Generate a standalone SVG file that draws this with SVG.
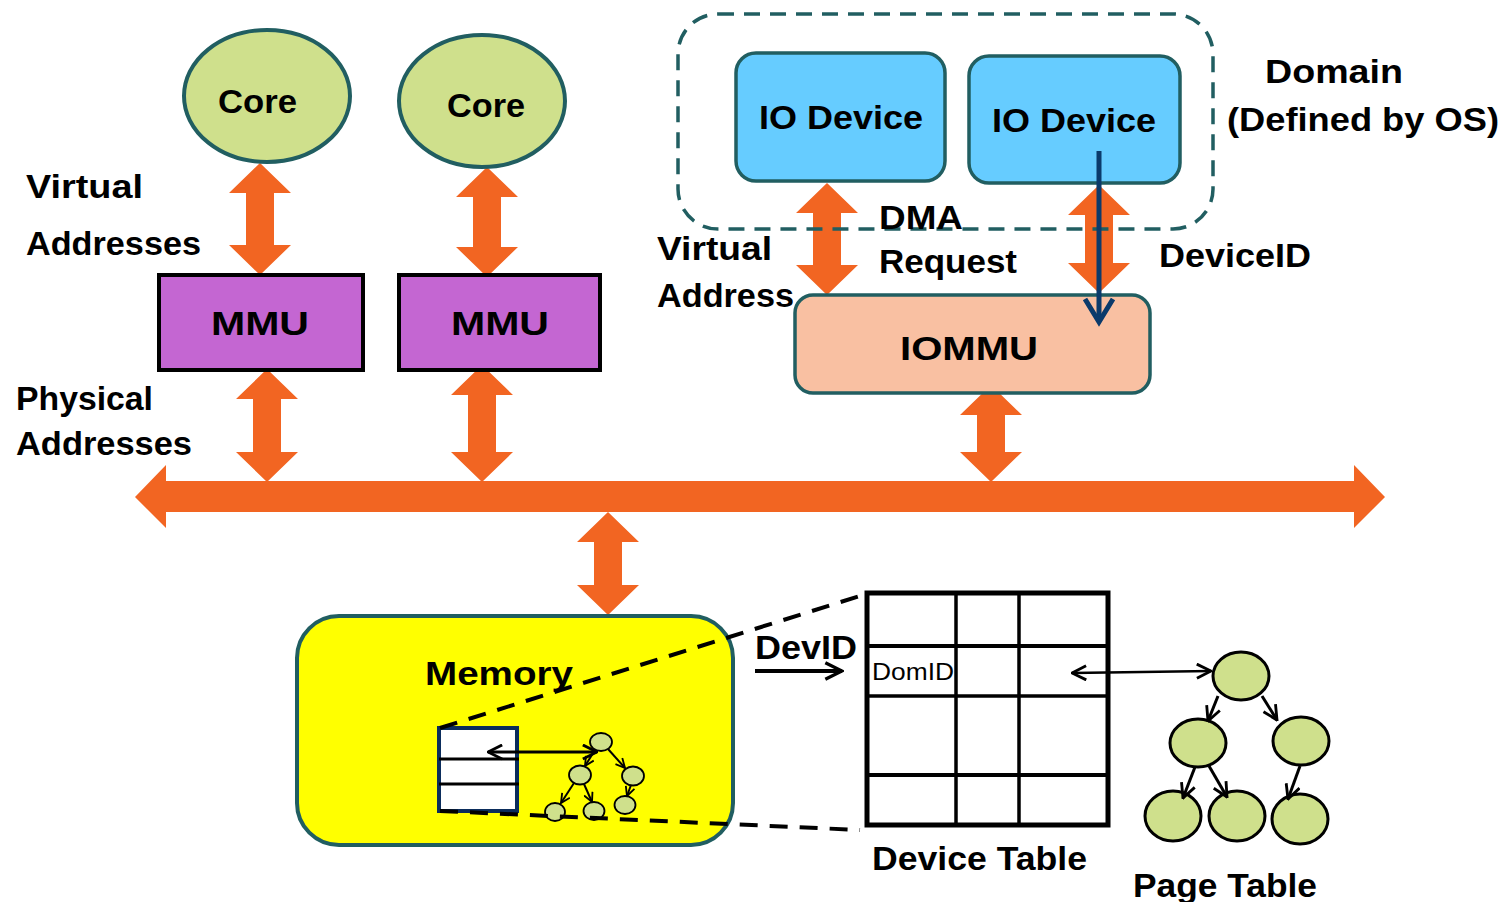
<svg xmlns="http://www.w3.org/2000/svg" width="1504" height="902" viewBox="0 0 1504 902">
<defs>
<style>
.t{font-family:"Liberation Sans",Arial,sans-serif;font-weight:bold;fill:#000;font-size:34px}
.n{font-family:"Liberation Sans",Arial,sans-serif;fill:#000;font-size:24px}
.or{fill:#f26522}
.core{fill:#cfe08c;stroke:#215e61;stroke-width:4}
.pt{fill:#cfe08c;stroke:#000;stroke-width:3}
.pts{fill:#cfe08c;stroke:#000;stroke-width:1.8}
.ln{stroke:#000;fill:none}
.dash{stroke:#000;stroke-width:4;stroke-dasharray:18 12;fill:none}
.box{stroke:#215e61;stroke-width:3.5}
</style>
<marker id="ah" viewBox="0 0 12 12" refX="11" refY="6" markerWidth="17" markerHeight="17" markerUnits="userSpaceOnUse" orient="auto-start-reverse"><path d="M1,1 L11,6 L1,11" fill="none" stroke="#000" stroke-width="2"/></marker>
<marker id="ahs" viewBox="0 0 12 12" refX="11" refY="6" markerWidth="11" markerHeight="11" markerUnits="userSpaceOnUse" orient="auto-start-reverse"><path d="M1,1 L11,6 L1,11" fill="none" stroke="#000" stroke-width="2"/></marker>
<marker id="ahb" viewBox="0 0 12 12" refX="11" refY="6" markerWidth="20" markerHeight="20" markerUnits="userSpaceOnUse" orient="auto-start-reverse"><path d="M1,1 L11,6 L1,11" fill="none" stroke="#000" stroke-width="2"/></marker>
</defs>
<rect width="1504" height="902" fill="#fff"/>

<g id="connectors">
<polygon class="or" points="135,497 166,465 166,481 1354,481 1354,465 1385,497 1354,528 1354,512 166,512 166,528"/>
<polygon class="or" points="260,163 291,193 274,193 274,245 291,245 260,275 229,245 246,245 246,193 229,193"/>
<polygon class="or" points="487,167 518,197 501,197 501,247 518,247 487,277 456,247 473,247 473,197 456,197"/>
<polygon class="or" points="267,369 298,399 281,399 281,452 298,452 267,482 236,452 253,452 253,399 236,399"/>
<polygon class="or" points="482,365 513,395 496,395 496,452 513,452 482,482 451,452 468,452 468,395 451,395"/>
<polygon class="or" points="991,385 1022,415 1005,415 1005,452 1022,452 991,482 960,452 977,452 977,415 960,415"/>
<polygon class="or" points="608,512 639,542 622,542 622,585 639,585 608,615 577,585 594,585 594,542 577,542"/>
<polygon class="or" points="827,183 858,213 841,213 841,265 858,265 827,295 796,265 813,265 813,213 796,213"/>
<polygon class="or" points="1099,185 1130,215 1113,215 1113,263 1130,263 1099,293 1068,263 1085,263 1085,215 1068,215"/>
</g>

<g id="domain">
<rect x="678" y="14" width="535" height="215" rx="40" fill="none" stroke="#215e61" stroke-width="3.5" stroke-dasharray="16 10"/>
<text class="t" x="1265" y="83" textLength="138" lengthAdjust="spacingAndGlyphs">Domain</text>
<text class="t" x="1227" y="131" textLength="272" lengthAdjust="spacingAndGlyphs">(Defined by OS)</text>
</g>

<g id="core1">
<ellipse class="core" cx="267" cy="96" rx="83" ry="66"/>
<text class="t" x="218" y="113" textLength="79" lengthAdjust="spacingAndGlyphs">Core</text>
</g>
<g id="core2">
<ellipse class="core" cx="482" cy="101" rx="83" ry="66"/>
<text class="t" x="447" y="117" textLength="78" lengthAdjust="spacingAndGlyphs">Core</text>
</g>
<g id="mmu1">
<rect x="159" y="275" width="204" height="95" fill="#c466d2" stroke="#000" stroke-width="4"/>
<text class="t" x="211" y="335" textLength="98" lengthAdjust="spacingAndGlyphs">MMU</text>
</g>
<g id="mmu2">
<rect x="399" y="275" width="201" height="95" fill="#c466d2" stroke="#000" stroke-width="4"/>
<text class="t" x="451" y="335" textLength="98" lengthAdjust="spacingAndGlyphs">MMU</text>
</g>

<g id="labels-left">
<text class="t" x="26" y="198" textLength="117" lengthAdjust="spacingAndGlyphs">Virtual</text>
<text class="t" x="26" y="255" textLength="175" lengthAdjust="spacingAndGlyphs">Addresses</text>
<text class="t" x="16" y="410" textLength="137" lengthAdjust="spacingAndGlyphs">Physical</text>
<text class="t" x="16" y="455" textLength="176" lengthAdjust="spacingAndGlyphs">Addresses</text>
</g>

<g id="iodev1">
<rect class="box" x="736" y="53" width="209" height="128" rx="20" fill="#66ccff"/>
<text class="t" x="759" y="129" textLength="164" lengthAdjust="spacingAndGlyphs">IO Device</text>
</g>
<g id="iodev2">
<rect class="box" x="969" y="56" width="211" height="127" rx="20" fill="#66ccff"/>
<text class="t" x="992" y="132" textLength="164" lengthAdjust="spacingAndGlyphs">IO Device</text>
</g>
<g id="iommu">
<rect class="box" x="795" y="295" width="355" height="98" rx="18" fill="#f9c0a2"/>
<text class="t" x="900" y="360" textLength="138" lengthAdjust="spacingAndGlyphs">IOMMU</text>
</g>

<g id="deviceid-arrow">
<line x1="1099" y1="151" x2="1099" y2="321" stroke="#0b3a6b" stroke-width="5"/>
<path d="M1085,299 L1099,322 L1113,299" fill="none" stroke="#0b3a6b" stroke-width="5"/>
</g>

<g id="labels-io">
<text class="t" x="879" y="229" textLength="84" lengthAdjust="spacingAndGlyphs">DMA</text>
<text class="t" x="879" y="273" textLength="138" lengthAdjust="spacingAndGlyphs">Request</text>
<text class="t" x="657" y="260" textLength="115" lengthAdjust="spacingAndGlyphs">Virtual</text>
<text class="t" x="657" y="307" textLength="137" lengthAdjust="spacingAndGlyphs">Address</text>
<text class="t" x="1159" y="267" textLength="152" lengthAdjust="spacingAndGlyphs">DeviceID</text>
</g>

<g id="memory">
<rect x="297" y="616" width="436" height="229" rx="42" fill="#ffff00" stroke="#215e61" stroke-width="4"/>
<text class="t" x="425" y="685" textLength="148" lengthAdjust="spacingAndGlyphs">Memory</text>
<rect x="439" y="728" width="78" height="83" fill="#fff" stroke="#0b2d5c" stroke-width="4"/>
<line class="ln" x1="439" y1="759" x2="519" y2="759" stroke-width="3"/>
<line class="ln" x1="439" y1="784" x2="519" y2="784" stroke-width="3"/>
<line class="ln" x1="488" y1="752" x2="597" y2="752" stroke-width="3" marker-start="url(#ah)" marker-end="url(#ah)"/>
<ellipse class="pts" cx="601" cy="742" rx="11" ry="9"/>
<ellipse class="pts" cx="580" cy="775" rx="11" ry="9.5"/>
<ellipse class="pts" cx="633" cy="776" rx="11" ry="9.5"/>
<ellipse class="pts" cx="555" cy="812" rx="10" ry="9"/>
<ellipse class="pts" cx="594" cy="811" rx="10.5" ry="9"/>
<ellipse class="pts" cx="625" cy="805" rx="10.5" ry="9"/>
<line class="ln" x1="595" y1="750" x2="585" y2="766" stroke-width="2" marker-end="url(#ahs)"/>
<line class="ln" x1="608" y1="749" x2="625" y2="768" stroke-width="2" marker-end="url(#ahs)"/>
<line class="ln" x1="574" y1="783" x2="561" y2="803" stroke-width="2" marker-end="url(#ahs)"/>
<line class="ln" x1="584" y1="784" x2="592" y2="802" stroke-width="2" marker-end="url(#ahs)"/>
<line class="ln" x1="631" y1="785" x2="627" y2="796" stroke-width="2" marker-end="url(#ahs)"/>
</g>

<g id="zoom-lines">
<line class="dash" x1="440" y1="728" x2="866" y2="594"/>
<line class="dash" x1="440" y1="811" x2="860" y2="830"/>
</g>

<g id="device-table">
<rect x="867" y="593" width="241" height="232" fill="#fff" stroke="#000" stroke-width="5"/>
<line class="ln" x1="867" y1="646" x2="1108" y2="646" stroke-width="4"/>
<line class="ln" x1="867" y1="696" x2="1108" y2="696" stroke-width="3.5"/>
<line class="ln" x1="867" y1="775" x2="1108" y2="775" stroke-width="4"/>
<line class="ln" x1="956" y1="593" x2="956" y2="825" stroke-width="3.5"/>
<line class="ln" x1="1019" y1="593" x2="1019" y2="825" stroke-width="3.5"/>
<text class="n" x="872" y="680" textLength="82" lengthAdjust="spacingAndGlyphs">DomID</text>
<text class="t" x="872" y="870" textLength="215" lengthAdjust="spacingAndGlyphs">Device Table</text>
</g>

<g id="devid">
<text class="t" x="755" y="659" textLength="102" lengthAdjust="spacingAndGlyphs">DevID</text>
<line class="ln" x1="755" y1="671" x2="842" y2="671" stroke-width="4" marker-end="url(#ahb)"/>
</g>

<g id="page-table">
<line class="ln" x1="1072" y1="673" x2="1211" y2="671" stroke-width="2.5" marker-start="url(#ah)" marker-end="url(#ah)"/>
<ellipse class="pt" cx="1241" cy="676" rx="28" ry="24"/>
<ellipse class="pt" cx="1198" cy="743" rx="28" ry="24"/>
<ellipse class="pt" cx="1301" cy="741" rx="28" ry="24"/>
<ellipse class="pt" cx="1173" cy="816" rx="28" ry="25"/>
<ellipse class="pt" cx="1237" cy="816" rx="28" ry="25"/>
<ellipse class="pt" cx="1300" cy="819" rx="28" ry="25"/>
<line class="ln" x1="1218" y1="696" x2="1208" y2="721" stroke-width="3" marker-end="url(#ah)"/>
<line class="ln" x1="1262" y1="696" x2="1277" y2="720" stroke-width="3" marker-end="url(#ah)"/>
<line class="ln" x1="1195" y1="767" x2="1183" y2="798" stroke-width="3" marker-end="url(#ah)"/>
<line class="ln" x1="1209" y1="766" x2="1227" y2="797" stroke-width="3" marker-end="url(#ah)"/>
<line class="ln" x1="1300" y1="766" x2="1288" y2="799" stroke-width="3" marker-end="url(#ah)"/>
<text class="t" x="1133" y="897" textLength="184" lengthAdjust="spacingAndGlyphs">Page Table</text>
</g>
</svg>
